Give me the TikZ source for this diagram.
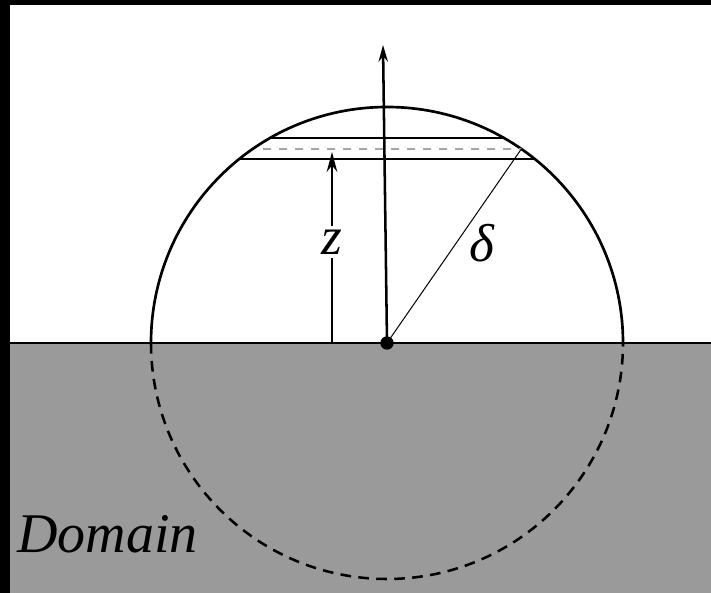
\documentclass[tikz,border=0pt]{standalone}
\usepackage{fontspec}
\setmainfont{Liberation Serif}
\usepackage{tikz}
\usetikzlibrary{arrows.meta, calc}
\definecolor{DomainGray}{HTML}{9A9A9A}
\definecolor{LayerGray}{HTML}{A6A6A6}

\begin{document}
\begin{tikzpicture}[x=0.75pt, y=0.75pt,
    rim/.style={line width=2pt},
    hidden/.style={line width=1.9pt, dash pattern=on 8pt off 5.5pt},
    layer/.style={line width=1.1pt},
    midlayer/.style={line width=1.2pt, LayerGray, dash pattern=on 6pt off 6pt},
    thin/.style={line width=0.75pt},
    axis/.style={line width=1.9pt, -{Stealth[length=12.5pt, width=7pt]}},
    height/.style={line width=0.8pt, -{Stealth[length=15pt, width=8pt]}},
    sym/.style={font=\fontsize{40}{46}\selectfont\itshape}
]
\useasboundingbox (0,0) rectangle (711,593);
% Frame and background
\fill[black] (0,0) rectangle (711,593);
\fill[white] (10,250) rectangle (711,588);
\fill[DomainGray] (10,0) rectangle (711,250);
\draw[line width=1.6pt] (10,250) -- (711,250);

% Ball
\node[circle, fill=black, inner sep=0pt, minimum size=10pt] (c) at (387,250) {};
\draw[rim] ($(c)+(0:236)$) arc[start angle=0, end angle=180, radius=177pt];
\draw[hidden] ($(c)+(180:236)$) arc[start angle=180, end angle=360, radius=177pt];

% Layers
\coordinate (top1) at ($(c)+(119.7:236)$);
\coordinate (top2) at ($(c)+(60.3:236)$);
\coordinate (bot1) at ($(c)+(128.8:236)$);
\coordinate (bot2) at ($(c)+(51.2:236)$);
\coordinate (mid1) at (263,444);
\coordinate (mid2) at ($(c)+(55.3:236)$);
\draw[layer] (top1) -- (top2);
\draw[midlayer] (mid1) -- (mid2);
\draw[layer] (bot1) -- (bot2);

% Axis, radius and height
\coordinate (axistip) at (383,548);
\draw[axis] (c.center) -- (axistip);
\draw[thin] (c.center) -- (mid2);
\node[sym] (delta) at (482,350) {δ};
\coordinate (zbase) at (332,250);
\coordinate (ztip) at (332,441);
\draw[height] (zbase) -- node[pos=0.53, fill=white, inner sep=3pt, sym] (zlabel) {z} (ztip);

% Domain label
\node[anchor=base west, inner sep=0pt, font=\fontsize{42}{48}\selectfont\itshape] (domain) at (17,40) {Domain};
\end{tikzpicture}
\end{document}
